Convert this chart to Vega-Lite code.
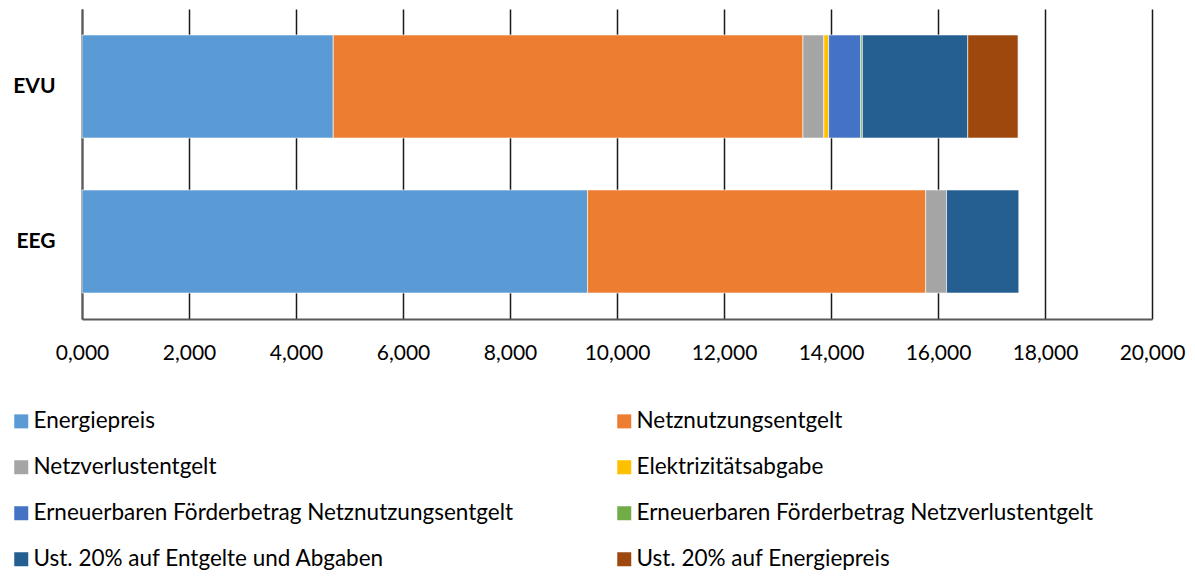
{
  "$schema": "https://vega.github.io/schema/vega-lite/v6.json",
  "width": 1070,
  "height": 310,
  "autosize": {"type": "none"},
  "padding": {"left": 82, "top": 9, "right": 43, "bottom": 257},
  "background": "white",
  "data": {
    "values": [
      {"tarif": "EVU", "komponente": "Energiepreis", "i": 1, "wert": 4.696},
      {"tarif": "EVU", "komponente": "Netznutzungsentgelt", "i": 2, "wert": 8.78},
      {"tarif": "EVU", "komponente": "Netzverlustentgelt", "i": 3, "wert": 0.39},
      {"tarif": "EVU", "komponente": "Elektrizitätsabgabe", "i": 4, "wert": 0.09},
      {"tarif": "EVU", "komponente": "Erneuerbaren Förderbetrag Netznutzungsentgelt", "i": 5, "wert": 0.60},
      {"tarif": "EVU", "komponente": "Erneuerbaren Förderbetrag Netzverlustentgelt", "i": 6, "wert": 0.03},
      {"tarif": "EVU", "komponente": "Ust. 20% auf Entgelte und Abgaben", "i": 7, "wert": 1.97},
      {"tarif": "EVU", "komponente": "Ust. 20% auf Energiepreis", "i": 8, "wert": 0.94},
      {"tarif": "EEG", "komponente": "Energiepreis", "i": 1, "wert": 9.45},
      {"tarif": "EEG", "komponente": "Netznutzungsentgelt", "i": 2, "wert": 6.32},
      {"tarif": "EEG", "komponente": "Netzverlustentgelt", "i": 3, "wert": 0.39},
      {"tarif": "EEG", "komponente": "Ust. 20% auf Entgelte und Abgaben", "i": 7, "wert": 1.35}
    ]
  },
  "mark": {"type": "bar", "stroke": "white", "strokeWidth": 0.6},
  "encoding": {
    "y": {
      "field": "tarif",
      "type": "nominal",
      "sort": ["EVU", "EEG"],
      "scale": {"paddingInner": 0.335, "paddingOuter": 0.1675},
      "axis": {
        "title": null,
        "ticks": false,
        "labelFont": "Lato",
        "labelFontSize": 21,
        "labelFontWeight": "bold",
        "labelColor": "#000000",
        "labelPadding": 27,
        "domainColor": "#595959",
        "domainWidth": 2
      }
    },
    "x": {
      "field": "wert",
      "type": "quantitative",
      "stack": "zero",
      "scale": {"domain": [0, 20], "nice": false},
      "axis": {
        "title": null,
        "values": [0, 2, 4, 6, 8, 10, 12, 14, 16, 18, 20],
        "labelExpr": "replace(format(datum.value, '.3f'), '.', ',')",
        "labelFont": "Lato",
        "labelFontSize": 21,
        "labelFlush": false,
        "labelColor": "#000000",
        "labelPadding": 23,
        "ticks": false,
        "grid": true,
        "gridColor": "#1a1a1a",
        "gridWidth": 1.5,
        "domainColor": "#595959",
        "domainWidth": 2
      }
    },
    "color": {
      "field": "komponente",
      "type": "nominal",
      "scale": {
        "domain": [
          "Energiepreis",
          "Netzverlustentgelt",
          "Erneuerbaren Förderbetrag Netznutzungsentgelt",
          "Ust. 20% auf Entgelte und Abgaben",
          "Netznutzungsentgelt",
          "Elektrizitätsabgabe",
          "Erneuerbaren Förderbetrag Netzverlustentgelt",
          "Ust. 20% auf Energiepreis"
        ],
        "range": ["#5B9BD5", "#A5A5A5", "#4472C4", "#255E91", "#ED7D31", "#FFC000", "#70AD47", "#9E480E"]
      },
      "legend": {
        "title": null,
        "orient": "none",
        "legendX": -72,
        "legendY": 401,
        "columns": 2,
        "columnPadding": 99,
        "rowPadding": 23,
        "symbolType": "square",
        "symbolSize": 196,
        "symbolStrokeWidth": 0,
        "symbolOpacity": 1,
        "labelFont": "Lato",
        "labelFontSize": 22.5,
        "labelColor": "#000000",
        "labelOffset": 1,
        "labelLimit": 700
      }
    },
    "order": {"field": "i", "type": "quantitative"}
  },
  "config": {"view": {"stroke": null}}
}
